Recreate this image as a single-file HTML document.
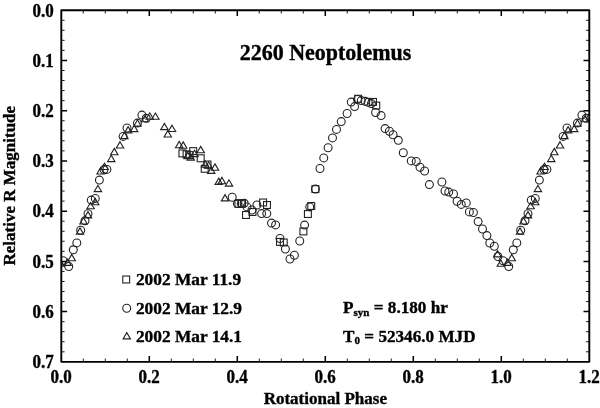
<!DOCTYPE html>
<html lang="en">
<head>
<meta charset="utf-8">
<title>2260 Neoptolemus</title>
<style>
html,body{margin:0;padding:0;background:#fff;}
body{width:600px;height:408px;overflow:hidden;}
svg{display:block;}
text{font-family:"Liberation Serif","Times New Roman",serif;font-weight:bold;fill:#000;stroke:#000;stroke-width:0.35px;}
</style>
</head>
<body>
<svg width="600" height="408" viewBox="0 0 600 408">
<rect x="0" y="0" width="600" height="408" fill="#fff"/>
<defs><clipPath id="plotclip"><rect x="61.3" y="10.2" width="528" height="351.65"/></clipPath></defs>
<path d="M83.30 361.85L83.30 358.55M83.30 10.20L83.30 13.50M105.30 361.85L105.30 358.55M105.30 10.20L105.30 13.50M127.30 361.85L127.30 358.55M127.30 10.20L127.30 13.50M171.30 361.85L171.30 358.55M171.30 10.20L171.30 13.50M193.30 361.85L193.30 358.55M193.30 10.20L193.30 13.50M215.30 361.85L215.30 358.55M215.30 10.20L215.30 13.50M259.30 361.85L259.30 358.55M259.30 10.20L259.30 13.50M281.30 361.85L281.30 358.55M281.30 10.20L281.30 13.50M303.30 361.85L303.30 358.55M303.30 10.20L303.30 13.50M347.30 361.85L347.30 358.55M347.30 10.20L347.30 13.50M369.30 361.85L369.30 358.55M369.30 10.20L369.30 13.50M391.30 361.85L391.30 358.55M391.30 10.20L391.30 13.50M435.30 361.85L435.30 358.55M435.30 10.20L435.30 13.50M457.30 361.85L457.30 358.55M457.30 10.20L457.30 13.50M479.30 361.85L479.30 358.55M479.30 10.20L479.30 13.50M523.30 361.85L523.30 358.55M523.30 10.20L523.30 13.50M545.30 361.85L545.30 358.55M545.30 10.20L545.30 13.50M567.30 361.85L567.30 358.55M567.30 10.20L567.30 13.50M61.30 20.25L64.60 20.25M589.30 20.25L586.00 20.25M61.30 30.29L64.60 30.29M589.30 30.29L586.00 30.29M61.30 40.34L64.60 40.34M589.30 40.34L586.00 40.34M61.30 50.39L64.60 50.39M589.30 50.39L586.00 50.39M61.30 70.48L64.60 70.48M589.30 70.48L586.00 70.48M61.30 80.53L64.60 80.53M589.30 80.53L586.00 80.53M61.30 90.58L64.60 90.58M589.30 90.58L586.00 90.58M61.30 100.62L64.60 100.62M589.30 100.62L586.00 100.62M61.30 120.72L64.60 120.72M589.30 120.72L586.00 120.72M61.30 130.77L64.60 130.77M589.30 130.77L586.00 130.77M61.30 140.81L64.60 140.81M589.30 140.81L586.00 140.81M61.30 150.86L64.60 150.86M589.30 150.86L586.00 150.86M61.30 170.95L64.60 170.95M589.30 170.95L586.00 170.95M61.30 181.00L64.60 181.00M589.30 181.00L586.00 181.00M61.30 191.05L64.60 191.05M589.30 191.05L586.00 191.05M61.30 201.10L64.60 201.10M589.30 201.10L586.00 201.10M61.30 221.19L64.60 221.19M589.30 221.19L586.00 221.19M61.30 231.24L64.60 231.24M589.30 231.24L586.00 231.24M61.30 241.28L64.60 241.28M589.30 241.28L586.00 241.28M61.30 251.33L64.60 251.33M589.30 251.33L586.00 251.33M61.30 271.43L64.60 271.43M589.30 271.43L586.00 271.43M61.30 281.47L64.60 281.47M589.30 281.47L586.00 281.47M61.30 291.52L64.60 291.52M589.30 291.52L586.00 291.52M61.30 301.57L64.60 301.57M589.30 301.57L586.00 301.57M61.30 321.66L64.60 321.66M589.30 321.66L586.00 321.66M61.30 331.71L64.60 331.71M589.30 331.71L586.00 331.71M61.30 341.76L64.60 341.76M589.30 341.76L586.00 341.76M61.30 351.80L64.60 351.80M589.30 351.80L586.00 351.80" stroke="#000" stroke-width="0.9" fill="none"/>
<path d="M149.30 361.85L149.30 356.05M149.30 10.20L149.30 16.00M237.30 361.85L237.30 356.05M237.30 10.20L237.30 16.00M325.30 361.85L325.30 356.05M325.30 10.20L325.30 16.00M413.30 361.85L413.30 356.05M413.30 10.20L413.30 16.00M501.30 361.85L501.30 356.05M501.30 10.20L501.30 16.00M61.30 60.44L67.10 60.44M589.30 60.44L583.50 60.44M61.30 110.67L67.10 110.67M589.30 110.67L583.50 110.67M61.30 160.91L67.10 160.91M589.30 160.91L583.50 160.91M61.30 211.14L67.10 211.14M589.30 211.14L583.50 211.14M61.30 261.38L67.10 261.38M589.30 261.38L583.50 261.38M61.30 311.61L67.10 311.61M589.30 311.61L583.50 311.61" stroke="#000" stroke-width="1.5" fill="none"/>
<g clip-path="url(#plotclip)" fill="none" stroke="#222" stroke-width="1.1">
<circle cx="63.10" cy="260.70" r="3.95"/>
<path d="M60.80 260.00L64.50 266.30L57.10 266.30Z"/>
<path d="M67.50 259.10L71.20 265.40L63.80 265.40Z"/>
<circle cx="68.75" cy="266.50" r="3.95"/>
<path d="M71.70 254.40L75.40 260.70L68.00 260.70Z"/>
<circle cx="73.30" cy="249.80" r="3.95"/>
<circle cx="76.80" cy="242.90" r="3.95"/>
<circle cx="80.70" cy="230.20" r="3.95"/>
<path d="M80.00 227.90L83.70 234.20L76.30 234.20Z"/>
<circle cx="85.00" cy="220.70" r="3.95"/>
<path d="M83.50 217.70L87.20 224.00L79.80 224.00Z"/>
<circle cx="88.00" cy="213.75" r="3.95"/>
<path d="M88.00 211.60L91.70 217.90L84.30 217.90Z"/>
<path d="M90.60 202.50L94.30 208.80L86.90 208.80Z"/>
<circle cx="91.25" cy="200.10" r="3.95"/>
<circle cx="95.30" cy="198.40" r="3.95"/>
<path d="M95.20 198.40L98.90 204.70L91.50 204.70Z"/>
<path d="M97.90 185.30L101.60 191.60L94.20 191.60Z"/>
<circle cx="99.40" cy="180.10" r="3.95"/>
<path d="M100.60 167.70L104.30 174.00L96.90 174.00Z"/>
<circle cx="104.00" cy="169.60" r="3.95"/>
<circle cx="106.90" cy="169.40" r="3.95"/>
<path d="M104.50 163.20L108.20 169.50L100.80 169.50Z"/>
<path d="M111.25 155.30L114.95 161.60L107.55 161.60Z"/>
<path d="M114.30 148.40L118.00 154.70L110.60 154.70Z"/>
<path d="M120.00 141.70L123.70 148.00L116.30 148.00Z"/>
<circle cx="123.10" cy="136.40" r="3.95"/>
<path d="M124.40 132.30L128.10 138.60L120.70 138.60Z"/>
<circle cx="127.00" cy="128.00" r="3.95"/>
<path d="M128.10 126.60L131.80 132.90L124.40 132.90Z"/>
<path d="M134.20 125.30L137.90 131.60L130.50 131.60Z"/>
<circle cx="137.40" cy="123.10" r="3.95"/>
<path d="M137.50 119.80L141.20 126.10L133.80 126.10Z"/>
<circle cx="141.90" cy="115.10" r="3.95"/>
<circle cx="146.20" cy="118.30" r="3.95"/>
<path d="M145.00 115.50L148.70 121.80L141.30 121.80Z"/>
<path d="M149.75 112.80L153.45 119.10L146.05 119.10Z"/>
<path d="M155.40 113.00L159.10 119.30L151.70 119.30Z"/>
<path d="M164.40 123.35L168.10 129.65L160.70 129.65Z"/>
<path d="M172.00 125.20L175.70 131.50L168.30 131.50Z"/>
<path d="M167.80 130.70L171.50 137.00L164.10 137.00Z"/>
<path d="M179.20 141.40L182.90 147.70L175.50 147.70Z"/>
<path d="M183.20 141.90L186.90 148.20L179.50 148.20Z"/>
<rect x="178.95" y="149.95" width="6.9" height="6.9"/>
<rect x="189.75" y="147.65" width="6.9" height="6.9"/>
<path d="M200.70 146.40L204.40 152.70L197.00 152.70Z"/>
<rect x="197.25" y="154.85" width="6.9" height="6.9"/>
<rect x="183.15" y="150.85" width="6.9" height="6.9"/>
<rect x="186.05" y="151.65" width="6.9" height="6.9"/>
<path d="M190.80 153.80L194.50 160.10L187.10 160.10Z"/>
<path d="M187.80 152.40L191.50 158.70L184.10 158.70Z"/>
<path d="M194.50 150.30L198.20 156.60L190.80 156.60Z"/>
<rect x="201.25" y="165.35" width="6.9" height="6.9"/>
<rect x="204.05" y="161.05" width="6.9" height="6.9"/>
<path d="M205.20 160.90L208.90 167.20L201.50 167.20Z"/>
<path d="M208.60 161.80L212.30 168.10L204.90 168.10Z"/>
<path d="M215.00 163.90L218.70 170.20L211.30 170.20Z"/>
<path d="M211.25 167.10L214.95 173.40L207.55 173.40Z"/>
<path d="M218.75 178.10L222.45 184.40L215.05 184.40Z"/>
<path d="M221.90 177.40L225.60 183.70L218.20 183.70Z"/>
<path d="M229.00 179.80L232.70 186.10L225.30 186.10Z"/>
<path d="M225.00 194.60L228.70 200.90L221.30 200.90Z"/>
<circle cx="232.20" cy="197.25" r="3.95"/>
<circle cx="237.40" cy="203.60" r="3.95"/>
<rect x="234.95" y="200.35" width="6.9" height="6.9"/>
<circle cx="241.20" cy="203.60" r="3.95"/>
<rect x="238.55" y="200.05" width="6.9" height="6.9"/>
<circle cx="244.20" cy="203.30" r="3.95"/>
<circle cx="246.90" cy="206.90" r="3.95"/>
<circle cx="251.90" cy="210.00" r="3.95"/>
<rect x="242.55" y="211.55" width="6.9" height="6.9"/>
<rect x="249.05" y="208.55" width="6.9" height="6.9"/>
<circle cx="256.90" cy="205.00" r="3.95"/>
<rect x="259.65" y="199.05" width="6.9" height="6.9"/>
<rect x="263.55" y="201.55" width="6.9" height="6.9"/>
<circle cx="261.60" cy="213.60" r="3.95"/>
<circle cx="266.80" cy="213.60" r="3.95"/>
<circle cx="271.50" cy="223.10" r="3.95"/>
<circle cx="275.60" cy="224.90" r="3.95"/>
<circle cx="280.00" cy="238.50" r="3.95"/>
<rect x="276.55" y="238.45" width="6.9" height="6.9"/>
<rect x="280.30" y="239.05" width="6.9" height="6.9"/>
<circle cx="285.40" cy="249.00" r="3.95"/>
<circle cx="294.40" cy="255.25" r="3.95"/>
<circle cx="290.00" cy="259.00" r="3.95"/>
<circle cx="299.75" cy="241.00" r="3.95"/>
<rect x="299.95" y="227.95" width="6.9" height="6.9"/>
<circle cx="304.60" cy="225.10" r="3.95"/>
<rect x="304.45" y="210.55" width="6.9" height="6.9"/>
<circle cx="309.75" cy="206.90" r="3.95"/>
<rect x="307.80" y="202.55" width="6.9" height="6.9"/>
<rect x="311.95" y="185.65" width="6.9" height="6.9"/>
<circle cx="315.40" cy="189.10" r="3.95"/>
<circle cx="320.00" cy="168.50" r="3.95"/>
<circle cx="323.75" cy="157.90" r="3.95"/>
<circle cx="328.10" cy="147.75" r="3.95"/>
<circle cx="332.50" cy="137.90" r="3.95"/>
<circle cx="336.50" cy="129.40" r="3.95"/>
<circle cx="341.25" cy="121.60" r="3.95"/>
<circle cx="347.10" cy="113.50" r="3.95"/>
<circle cx="354.60" cy="106.60" r="3.95"/>
<circle cx="351.25" cy="102.10" r="3.95"/>
<rect x="354.65" y="95.30" width="6.9" height="6.9"/>
<circle cx="357.50" cy="99.40" r="3.95"/>
<circle cx="361.25" cy="100.60" r="3.95"/>
<circle cx="365.20" cy="101.30" r="3.95"/>
<circle cx="368.20" cy="102.30" r="3.95"/>
<circle cx="371.40" cy="103.60" r="3.95"/>
<rect x="369.55" y="98.45" width="6.9" height="6.9"/>
<rect x="372.80" y="102.15" width="6.9" height="6.9"/>
<circle cx="375.60" cy="112.50" r="3.95"/>
<circle cx="381.10" cy="115.60" r="3.95"/>
<circle cx="385.10" cy="128.60" r="3.95"/>
<circle cx="389.40" cy="131.25" r="3.95"/>
<circle cx="393.10" cy="134.75" r="3.95"/>
<circle cx="398.30" cy="140.30" r="3.95"/>
<circle cx="403.30" cy="152.70" r="3.95"/>
<circle cx="411.25" cy="160.90" r="3.95"/>
<circle cx="416.25" cy="161.50" r="3.95"/>
<circle cx="420.00" cy="167.25" r="3.95"/>
<circle cx="424.60" cy="171.00" r="3.95"/>
<circle cx="429.40" cy="184.60" r="3.95"/>
<circle cx="441.90" cy="182.00" r="3.95"/>
<circle cx="445.00" cy="191.00" r="3.95"/>
<circle cx="448.75" cy="192.10" r="3.95"/>
<circle cx="453.50" cy="194.00" r="3.95"/>
<circle cx="457.10" cy="201.25" r="3.95"/>
<circle cx="461.25" cy="204.40" r="3.95"/>
<circle cx="466.25" cy="202.90" r="3.95"/>
<circle cx="469.40" cy="211.90" r="3.95"/>
<circle cx="473.40" cy="212.50" r="3.95"/>
<circle cx="478.10" cy="221.60" r="3.95"/>
<circle cx="482.50" cy="229.00" r="3.95"/>
<circle cx="486.90" cy="235.60" r="3.95"/>
<circle cx="489.80" cy="243.00" r="3.95"/>
<circle cx="494.30" cy="246.25" r="3.95"/>
<circle cx="497.90" cy="256.50" r="3.95"/>
<path d="M497.50 250.60L501.20 256.90L493.80 256.90Z"/>
<circle cx="503.10" cy="260.70" r="3.95"/>
<path d="M500.80 260.00L504.50 266.30L497.10 266.30Z"/>
<path d="M507.50 259.10L511.20 265.40L503.80 265.40Z"/>
<circle cx="508.75" cy="266.50" r="3.95"/>
<path d="M511.70 254.40L515.40 260.70L508.00 260.70Z"/>
<circle cx="513.30" cy="249.80" r="3.95"/>
<circle cx="516.80" cy="242.90" r="3.95"/>
<circle cx="520.70" cy="230.20" r="3.95"/>
<path d="M520.00 227.90L523.70 234.20L516.30 234.20Z"/>
<circle cx="525.00" cy="220.70" r="3.95"/>
<path d="M523.50 217.70L527.20 224.00L519.80 224.00Z"/>
<circle cx="528.00" cy="213.75" r="3.95"/>
<path d="M528.00 211.60L531.70 217.90L524.30 217.90Z"/>
<path d="M530.60 202.50L534.30 208.80L526.90 208.80Z"/>
<circle cx="531.25" cy="200.10" r="3.95"/>
<circle cx="535.30" cy="198.40" r="3.95"/>
<path d="M535.20 198.40L538.90 204.70L531.50 204.70Z"/>
<path d="M537.90 185.30L541.60 191.60L534.20 191.60Z"/>
<circle cx="539.40" cy="180.10" r="3.95"/>
<path d="M540.60 167.70L544.30 174.00L536.90 174.00Z"/>
<circle cx="544.00" cy="169.60" r="3.95"/>
<circle cx="546.90" cy="169.40" r="3.95"/>
<path d="M544.50 163.20L548.20 169.50L540.80 169.50Z"/>
<path d="M551.25 155.30L554.95 161.60L547.55 161.60Z"/>
<path d="M554.30 148.40L558.00 154.70L550.60 154.70Z"/>
<path d="M560.00 141.70L563.70 148.00L556.30 148.00Z"/>
<circle cx="563.10" cy="136.40" r="3.95"/>
<path d="M564.40 132.30L568.10 138.60L560.70 138.60Z"/>
<circle cx="567.00" cy="128.00" r="3.95"/>
<path d="M568.10 126.60L571.80 132.90L564.40 132.90Z"/>
<path d="M574.20 125.30L577.90 131.60L570.50 131.60Z"/>
<circle cx="577.40" cy="123.10" r="3.95"/>
<path d="M577.50 119.80L581.20 126.10L573.80 126.10Z"/>
<circle cx="581.90" cy="115.10" r="3.95"/>
<circle cx="586.20" cy="118.30" r="3.95"/>
<path d="M585.00 115.50L588.70 121.80L581.30 121.80Z"/>
<path d="M589.75 112.80L593.45 119.10L586.05 119.10Z"/>
</g>
<rect x="61.3" y="10.2" width="528.0" height="351.65000000000003" fill="none" stroke="#000" stroke-width="1.9" stroke-linejoin="round"/>
<text transform="translate(53.80 16.55) scale(1 1.07)" font-size="17" text-anchor="end">0.0</text>
<text transform="translate(53.80 66.79) scale(1 1.07)" font-size="17" text-anchor="end">0.1</text>
<text transform="translate(53.80 117.02) scale(1 1.07)" font-size="17" text-anchor="end">0.2</text>
<text transform="translate(53.80 167.26) scale(1 1.07)" font-size="17" text-anchor="end">0.3</text>
<text transform="translate(53.80 217.49) scale(1 1.07)" font-size="17" text-anchor="end">0.4</text>
<text transform="translate(53.80 267.73) scale(1 1.07)" font-size="17" text-anchor="end">0.5</text>
<text transform="translate(53.80 317.96) scale(1 1.07)" font-size="17" text-anchor="end">0.6</text>
<text transform="translate(53.80 368.20) scale(1 1.07)" font-size="17" text-anchor="end">0.7</text>
<text transform="translate(61.20 383.10) scale(1 1.06)" font-size="17" text-anchor="middle">0.0</text>
<text transform="translate(149.20 383.10) scale(1 1.06)" font-size="17" text-anchor="middle">0.2</text>
<text transform="translate(237.20 383.10) scale(1 1.06)" font-size="17" text-anchor="middle">0.4</text>
<text transform="translate(325.20 383.10) scale(1 1.06)" font-size="17" text-anchor="middle">0.6</text>
<text transform="translate(413.20 383.10) scale(1 1.06)" font-size="17" text-anchor="middle">0.8</text>
<text transform="translate(501.20 383.10) scale(1 1.06)" font-size="17" text-anchor="middle">1.0</text>
<text transform="translate(589.20 383.10) scale(1 1.06)" font-size="17" text-anchor="middle">1.2</text>
<text transform="translate(325.30 403.60) scale(1 1.0)" font-size="17" text-anchor="middle">Rotational Phase</text>
<text transform="translate(15.00 185.70) rotate(-90) scale(1 1.0)" font-size="17" text-anchor="middle">Relative R Magnitude</text>
<text transform="translate(325.50 59.50) scale(1 1.08)" font-size="22" text-anchor="middle">2260 Neoptolemus</text>
<g fill="none" stroke="#222" stroke-width="1.1"><rect x="122.75" y="276.05" width="6.9" height="6.9"/><circle cx="126.70" cy="308.25" r="3.95"/><path d="M126.80 332.60L130.50 338.90L123.10 338.90Z"/></g>
<text transform="translate(135.90 284.90) scale(1 1.02)" font-size="17.35">2002 Mar 11.9</text>
<text transform="translate(135.90 313.60) scale(1 1.02)" font-size="17.35">2002 Mar 12.9</text>
<text transform="translate(135.90 342.00) scale(1 1.02)" font-size="17.35">2002 Mar 14.1</text>
<text transform="translate(343.10 313.00) scale(1 1.02)" font-size="17.15">P<tspan font-size="11" dy="2.7">syn</tspan><tspan dy="-2.7"> = 8.180 hr</tspan></text>
<text transform="translate(343.10 341.50) scale(1 1.02)" font-size="17.15">T<tspan font-size="11" dy="2.7">0</tspan><tspan dy="-2.7"> = 52346.0 MJD</tspan></text>
</svg>
</body>
</html>
